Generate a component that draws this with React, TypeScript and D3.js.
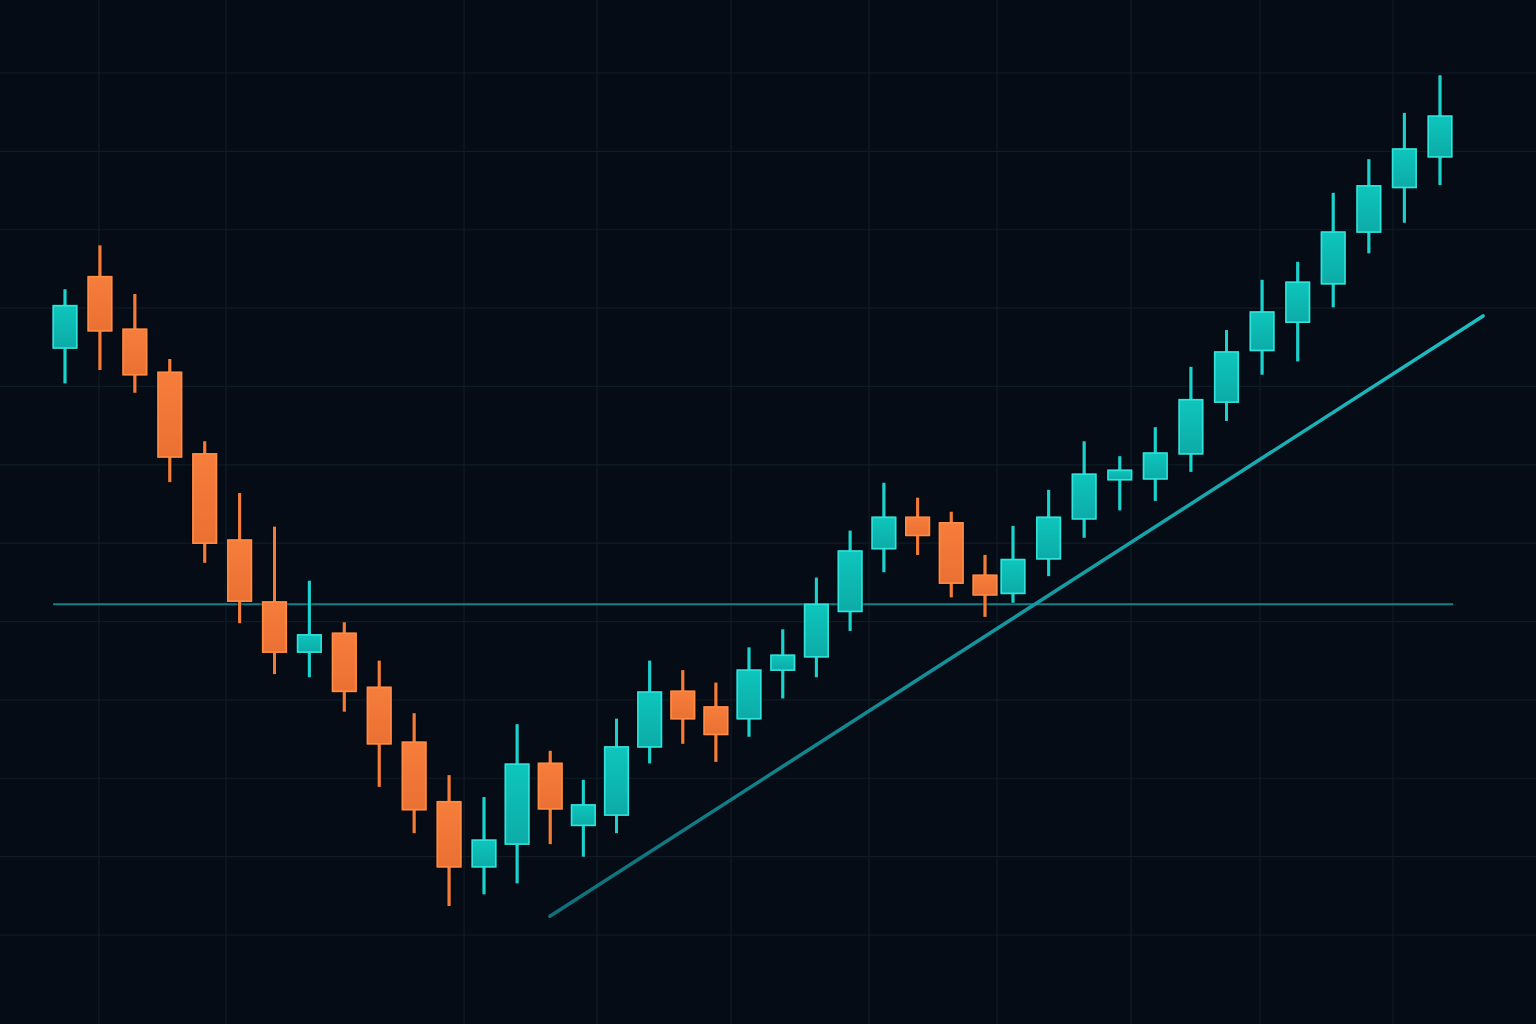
import React from "react";
import * as d3 from "d3";

// OHLC values (price units, one candle per session)
const opens = [
  174.9, 184.0, 177.3, 171.8, 161.4, 150.4, 142.5, 136.1, 138.5, 131.6,
  124.6, 117.0, 108.7, 111.6, 121.9, 114.0, 115.3, 124.0, 131.1, 129.1,
  127.6, 133.8, 135.5, 141.3, 149.3, 153.3, 152.6, 145.9, 143.6, 148.0,
  153.1, 158.1, 158.2, 161.4, 168.0, 174.6, 178.2, 183.1, 189.7, 195.4,
  199.3,
];
const highs = [
  182.4, 188.0, 181.8, 173.5, 163.0, 156.4, 152.1, 145.2, 139.9, 135.0,
  128.3, 120.4, 117.6, 126.9, 123.5, 119.8, 127.6, 135.0, 133.8, 132.2,
  136.7, 139.0, 145.6, 151.6, 157.7, 155.8, 154.0, 148.5, 152.2, 156.8,
  163.0, 161.1, 164.8, 172.5, 177.2, 183.6, 185.9, 194.7, 199.0, 204.9,
  209.7,
];
const lows = [
  170.4, 172.1, 169.2, 157.8, 147.5, 139.8, 133.3, 132.9, 128.5, 118.9,
  113.0, 103.7, 105.2, 106.6, 111.6, 110.0, 113.0, 121.9, 124.4, 122.1,
  125.3, 130.2, 132.9, 138.8, 146.3, 148.5, 143.1, 140.6, 142.4, 145.8,
  150.7, 154.2, 155.4, 159.1, 165.6, 171.5, 173.2, 180.1, 187.0, 190.9,
  195.7,
];
const closes = [
  180.3, 177.1, 171.5, 161.0, 150.0, 142.6, 136.1, 138.3, 131.1, 124.4,
  116.0, 108.7, 112.1, 121.8, 116.1, 116.6, 124.0, 131.0, 127.6, 125.6,
  133.8, 135.7, 142.2, 149.0, 153.3, 151.0, 144.9, 143.4, 147.9, 153.3,
  158.8, 159.3, 161.5, 168.3, 174.4, 179.5, 183.3, 189.7, 195.6, 200.3,
  204.5,
];

// horizontal price ticks for the grid, and session positions of vertical grid lines
const priceTicks = [100, 110, 120, 130, 140, 150, 160, 170, 180, 190, 200, 210];
const sessionGrid = [0.97, 4.61, 11.43, 15.41, 19.46, 23.56, 27.43, 31.32, 34.94, 38.68];

// support level and rising trendline (session, price)
const supportLevel = 142.2;
const supportSpan = [-0.34, 40.37];
const trendStart = [13.99, 102.4];
const trendEnd = [41.21, 179.0];

const W = 1536;
const H = 1024;

const candles = opens.map((o, i) => ({
  i,
  o,
  h: highs[i],
  l: lows[i],
  c: closes[i],
}));

export default function App() {
  // sessions aren't spaced perfectly evenly in the picture, so piecewise
  const x = d3
    .scaleLinear()
    .domain([0, 12, 20, 27, 28, 40])
    .range([65, 484, 749, 985, 1013, 1440]);
  const y = d3.scaleLinear().domain([100, 210]).range([935, 73]);
  const bodyW = 23.5;

  const trend = d3.line<number[]>()
    .x((d) => x(d[0]))
    .y((d) => y(d[1]));

  return (
    <svg
      width={W}
      height={H}
      style={{ position: "absolute", left: 0, top: 0, display: "block" }}
    >
      <defs>
        <linearGradient id="upFill" x1="0" y1="0" x2="0" y2="1">
          <stop offset="0%" stopColor="#10c6bc" />
          <stop offset="100%" stopColor="#0fabA7" />
        </linearGradient>
        <linearGradient id="downFill" x1="0" y1="0" x2="0" y2="1">
          <stop offset="0%" stopColor="#f67d3b" />
          <stop offset="100%" stopColor="#ea7033" />
        </linearGradient>
        <linearGradient
          id="trendGrad"
          gradientUnits="userSpaceOnUse"
          x1={x(trendStart[0])}
          y1={y(trendStart[1])}
          x2={x(trendEnd[0])}
          y2={y(trendEnd[1])}
        >
          <stop offset="0%" stopColor="#0e6f7a" />
          <stop offset="100%" stopColor="#1cbfc4" />
        </linearGradient>
        <filter id="shade" x="-30%" y="-10%" width="160%" height="120%">
          <feDropShadow dx="0" dy="0" stdDeviation="1.5" floodColor="#000" floodOpacity="0.9" />
        </filter>
      </defs>

      <rect width={W} height={H} fill="#060c16" />

      {/* grid */}
      <g stroke="#0f1c26" strokeWidth={1.2}>
        {priceTicks.map((p) => (
          <line key={"h" + p} x1={0} x2={W} y1={y(p)} y2={y(p)} />
        ))}
        {sessionGrid.map((s) => (
          <line key={"v" + s} x1={x(s)} x2={x(s)} y1={0} y2={H} />
        ))}
      </g>

      {/* support level */}
      <line
        x1={x(supportSpan[0])}
        x2={x(supportSpan[1])}
        y1={y(supportLevel)}
        y2={y(supportLevel)}
        stroke="#15808a"
        strokeWidth={2}
      />

      {/* candles */}
      <g filter="url(#shade)">
        {candles.map((d) => {
          const up = d.c >= d.o;
          const cx = x(d.i);
          const top = y(Math.max(d.o, d.c));
          const bot = y(Math.min(d.o, d.c));
          return (
            <g key={d.i}>
              <line
                x1={cx}
                x2={cx}
                y1={y(d.h)}
                y2={y(d.l)}
                stroke={up ? "#1ad2cf" : "#f57c37"}
                strokeWidth={3}
              />
              <rect
                x={cx - bodyW / 2}
                y={top}
                width={bodyW}
                height={Math.max(bot - top, 2)}
                fill={up ? "url(#upFill)" : "url(#downFill)"}
                stroke={up ? "#30e2dc" : "#ff8c45"}
                strokeWidth={1.6}
              />
            </g>
          );
        })}
      </g>

      {/* trendline */}
      <path
        d={trend([trendStart, trendEnd]) ?? ""}
        fill="none"
        stroke="url(#trendGrad)"
        strokeWidth={3.5}
        strokeLinecap="round"
      />
    </svg>
  );
}
